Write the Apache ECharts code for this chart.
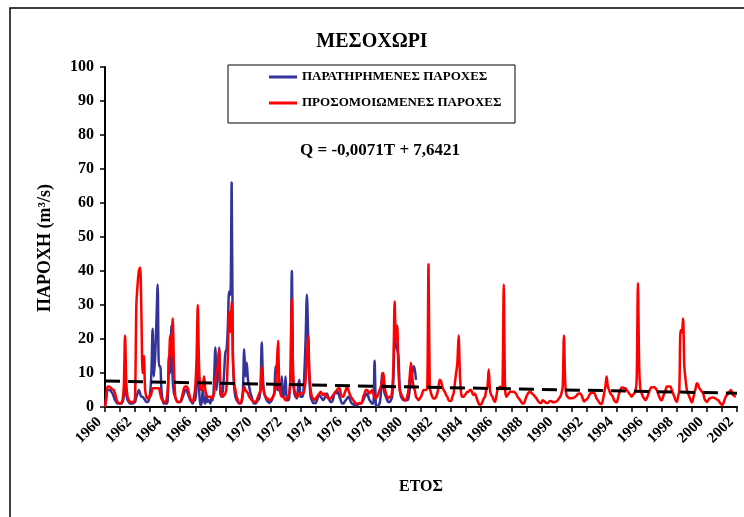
<!DOCTYPE html>
<html><head><meta charset="utf-8">
<script src="https://cdn.jsdelivr.net/npm/echarts@6/dist/echarts.min.js"></script>
<style>html,body{margin:0;padding:0;background:#fff}#c{width:744px;height:517px}</style>
</head><body><div id="c"></div><script>
const startYear = 1960;
const endYear = 2002;
const xTickLabels = ['1960','1962','1964','1966','1968','1970','1972','1974','1976','1978','1980','1982','1984','1986','1988','1990','1992','1994','1996','1998','2000','2002'];
const yTickLabels = ['0','10','20','30','40','50','60','70','80','90','100'];
const observedName = 'ΠΑΡΑΤΗΡΗΜΕΝΕΣ ΠΑΡΟΧΕΣ';
const simulatedName = 'ΠΡΟΣΟΜΟΙΩΜΕΝΕΣ ΠΑΡΟΧΕΣ';
const trendYears = [1960, 2002];
const trendValues = [7.64, 4.06];

// monthly observed discharge (m3/s), Jan 1960 ...
const observed = [
 0, 2.5, 5, 5, 5, 4.5, 4, 3, 2, 1.5, 1, 1,
 1, 1, 1.5, 3, 7, 4, 2, 1.5, 1, 1, 1, 1.2,
 1.5, 3, 4, 5, 4, 3, 3, 2.5, 2, 1.5, 1.5, 2,
 4, 10, 23, 9, 15, 25, 36, 12, 12, 5, 2, 1,
 1, 1, 2, 15, 10, 24, 8, 4, 3, 2, 1.5, 1.5,
 1.5, 2, 3, 4, 5, 5, 4, 3, 2, 1.5, 1, 2,
 2, 6, 15.5, 6, 0.5, 1, 5, 2, 1, 3.5, 1.5, 2,
 1, 3, 2, 8, 17.5, 5, 10, 17.5, 4, 3, 5, 10,
 16, 17, 24, 34, 33, 66, 15, 6, 3, 2, 1.5, 1,
 1, 1.5, 5, 17, 9, 13, 8, 6, 4, 3, 1.5, 1,
 1, 1.5, 2, 2.5, 5, 19, 8, 4, 3, 2, 1.5, 1.2,
 1.5, 2, 3, 4, 12, 6, 5, 5, 4, 9, 3, 4,
 9, 2, 2, 3, 10, 40, 8, 4, 3, 2.5, 6, 8,
 3, 3, 3.5, 10, 20, 33, 21, 8, 3, 2, 1.2, 1.2,
 1.2, 2, 3, 3.5, 3, 2.5, 2, 2.5, 3.5, 4, 3, 2,
 1.5, 1.5, 2.5, 4, 4.5, 4, 4.5, 3, 2, 1, 1, 1.5,
 2, 2.5, 3, 2.5, 1.5, 1, 0.8, 0.5, 0.5, 0.5, 0.8, 1,
 1, 1.5, 2, 3, 3.5, 4, 3, 2, 1.5, 1, 1, 13.6,
 0.5, 0.3, 0.5, 1, 4, 10, 6, 4, 3, 2, 1.5, 1.5,
 2, 3, 8, 22, 18, 17, 15, 6, 3, 2.5, 2, 2,
 2, 2, 2.5, 5, 8, 10, 12, 11, 8
];

// monthly simulated discharge (m3/s), Jan 1960 ... Dec 2001
const simulated = [
 0, 3, 6, 6, 5.8, 5.5, 5.2, 5, 4, 2.5, 1.5, 1.2,
 1, 1.2, 2, 6, 21, 7, 3, 2, 1.5, 1.5, 1.5, 1.5,
 3, 30, 36, 40, 41, 28, 10, 15, 5, 3, 2.5, 3,
 3, 4, 5.5, 5.5, 5.5, 5.5, 5.5, 5.5, 4, 2.5, 2, 1.5,
 1.5, 2, 5, 12, 21, 15, 26, 12, 3, 2, 1.5, 1.5,
 1.5, 2.5, 4, 5.5, 6, 6, 5.5, 4, 2.5, 1.8, 1.5, 3,
 6, 14, 30, 12, 6, 5, 6, 9, 5, 3.5, 3, 3,
 3, 2.5, 3, 4, 8, 10, 12, 17, 6, 3.5, 3, 3.5,
 4, 6, 15, 28, 22, 31, 15, 7, 5, 3, 2, 1.2,
 1.2, 2, 4, 6, 5, 4.5, 4, 3, 2.5, 2, 1.8, 1.5,
 1.5, 2, 3, 4, 5, 12, 6, 4, 3, 2.5, 2.5, 2,
 2, 2.5, 3, 4, 6, 12, 19.5, 6, 4, 3, 3, 2.5,
 2, 2, 3, 4, 10, 32, 10, 5, 4, 3, 3, 4,
 4, 4, 4, 5, 8, 14, 21, 10, 5, 3, 2.5, 2,
 2.5, 3, 3.5, 4, 4.5, 4, 3.5, 4, 3.5, 3, 2.5, 2.5,
 2.5, 3, 3.5, 4, 4.5, 5, 5.5, 5.5, 4, 3, 3, 4,
 5, 6, 5, 4, 3, 2.5, 2, 1.5, 1, 1, 1, 1.2,
 1, 1.5, 3, 4, 5, 5, 4.5, 4, 4.5, 5, 4, 3,
 2.5, 3, 4, 5, 6, 8, 10, 6, 4, 3, 2.5, 3,
 3, 5, 12, 31, 20, 24, 11, 5, 4, 3, 2.5, 2,
 2, 3, 5, 9, 13, 9, 6, 5, 3, 2.5, 2, 2.5,
 3, 4, 5, 5, 5, 5.5, 42, 6, 4, 3, 2.5, 2.5,
 3, 4, 6, 8, 7.5, 6, 5, 4.5, 3.5, 3, 2, 1.8,
 1.8, 3, 4, 7, 10, 13, 21, 10, 4, 3, 3, 3.5,
 4, 4.5, 4.5, 5, 5, 4, 3.5, 4, 3, 2, 1, 0.6,
 0.8, 1.5, 2.5, 3, 5, 6, 11, 5, 3.5, 3, 2, 1.5,
 3, 5, 5.5, 6, 5.5, 6, 36, 6, 3, 3.5, 4, 4.5,
 4.5, 4.5, 4.5, 4.2, 3.8, 3, 2.5, 2, 1.5, 1, 1, 2,
 3, 3.8, 4.3, 4.5, 4.2, 3.8, 3.5, 3, 2.6, 2, 1.5, 1.2,
 1.2, 2, 1.8, 1.4, 1.2, 1.2, 1.5, 1.8, 1.7, 1.4, 1.4, 1.5,
 1.6, 2, 2.5, 3, 4, 6, 21, 7, 3.5, 3, 2.6, 2.6,
 2.6, 2.6, 2.8, 3, 3.3, 3.8, 4, 4, 3.5, 2.5, 1.6, 2,
 2.2, 2.6, 3.3, 4, 4.2, 4.2, 4.2, 3.5, 2.5, 2, 1.4, 1,
 0.9, 2, 4, 6, 9, 6, 5, 4, 3.5, 3, 2, 1.5,
 1.4, 2.5, 4, 5, 5.7, 5.7, 5.5, 5.5, 5, 4.5, 4, 3.5,
 3, 3.5, 4, 4.5, 8, 36.5, 12, 5, 4, 3, 2.5, 2,
 2.5, 3.5, 4.5, 5.5, 5.8, 5.8, 5.8, 5.5, 5, 4, 3, 2.2,
 2, 3, 4, 5, 6, 6, 6, 6, 5, 4, 3, 2,
 1.5, 3, 5, 22.6, 22, 26, 12, 8, 5, 4, 3, 2,
 1.3, 2.5, 4, 5.5, 7, 6.5, 5.5, 5, 4.5, 4, 2.5, 1.8,
 1.5, 2, 2.5, 2.6, 2.8, 2.8, 2.6, 2.5, 2.2, 2, 1.5, 1,
 0.6, 1, 2, 3, 3.5, 4, 4.5, 5, 4.5, 3.5, 3.2, 3
];

const toPoints = arr => arr.map((v, i) => [startYear + i / 12, v]);
const FONT = 'Liberation Serif';

const chart = echarts.init(document.getElementById('c'), null, {renderer: 'canvas'});
chart.setOption({
  backgroundColor: '#fff',
  animation: false,
  title: {
    text: 'ΜΕΣΟΧΩΡΙ', left: 'center', top: 32, padding: 0,
    textStyle: {fontFamily: FONT, fontWeight: 'bold', fontSize: 20, color: '#000'}
  },
  legend: {
    data: [observedName, simulatedName],
    orient: 'vertical', left: 269, top: 70, padding: 0, itemGap: 12,
    icon: 'rect', itemWidth: 28, itemHeight: 3, selectedMode: false,
    textStyle: {fontFamily: FONT, fontWeight: 'bold', fontSize: 13, color: '#000', lineHeight: 14}
  },
  grid: {left: 105, right: 7, top: 67, bottom: 110, containLabel: false, outerBoundsMode: 'none'},
  xAxis: {
    type: 'value', min: startYear, max: endYear, interval: 1,
    axisLine: {lineStyle: {color: '#000', width: 2}},
    axisTick: {length: 5, lineStyle: {color: '#000', width: 1.5}},
    splitLine: {show: false},
    axisLabel: {
      rotate: 45, margin: 7, color: '#000', fontFamily: FONT, fontWeight: 'bold', fontSize: 15,
      showMinLabel: true, showMaxLabel: true, padding: [0, 8, 0, 0],
      formatter: v => xTickLabels.includes(String(v)) ? String(v) : ''
    },
    name: 'ΕΤΟΣ', nameLocation: 'middle', nameGap: 72,
    nameTextStyle: {fontFamily: FONT, fontWeight: 'bold', fontSize: 16, color: '#000'}
  },
  yAxis: {
    type: 'value', min: 0, max: 100, interval: 10,
    axisLine: {show: true, lineStyle: {color: '#000', width: 2}},
    axisTick: {show: true, length: 5, lineStyle: {color: '#000', width: 1.5}},
    splitLine: {show: false},
    axisLabel: {
      margin: 11, color: '#000', fontFamily: FONT, fontWeight: 'bold', fontSize: 16,
      formatter: v => yTickLabels.includes(String(v)) ? String(v) : ''
    }
  },
  graphic: [
    {type: 'rect', shape: {x: 10, y: 8, width: 800, height: 600}, style: {fill: 'none', stroke: '#000', lineWidth: 1.5}, silent: true},
    {type: 'rect', shape: {x: 228, y: 65, width: 287, height: 58}, style: {fill: '#fff', stroke: '#000', lineWidth: 1}, z: -1, silent: true},
    {type: 'text', left: 300, top: 142, style: {text: 'Q = -0,0071T + 7,6421', fill: '#000', font: 'bold 17px "Liberation Serif"'}, silent: true},
    {type: 'text', x: 45, y: 248, rotation: Math.PI / 2,
     style: {text: 'ΠΑΡΟΧΗ (m³/s)', fill: '#000', font: 'bold 18px "Liberation Serif"', align: 'center', verticalAlign: 'middle'}, silent: true}
  ],
  series: [
    {name: observedName, type: 'line', data: toPoints(observed), showSymbol: false, smooth: 0.3,
     lineStyle: {color: '#333399', width: 2.5}, itemStyle: {color: '#333399'}, z: 2},
    {name: simulatedName, type: 'line', data: toPoints(simulated), showSymbol: false, smooth: 0.3,
     lineStyle: {color: '#ff0000', width: 2.5}, itemStyle: {color: '#ff0000'}, z: 3},
    {name: 'trend', type: 'line', data: trendYears.map((y, i) => [y, trendValues[i]]), showSymbol: false,
     lineStyle: {color: '#000', width: 3, type: [15, 8]}, itemStyle: {color: '#000'}, z: 4}
  ]
});
</script></body></html>
